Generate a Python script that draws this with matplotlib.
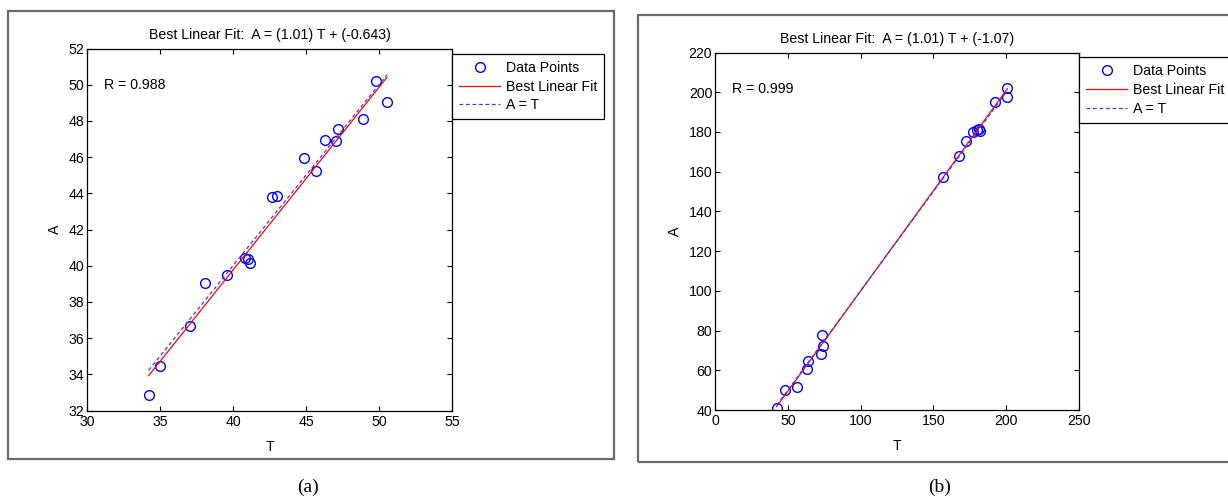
import numpy as np
import matplotlib
matplotlib.use("Agg")
import matplotlib.pyplot as plt
from matplotlib.patches import Rectangle

plt.rcParams["font.family"] = ["Liberation Sans", "DejaVu Sans"]

# panel (a)
t_a = [34.22, 34.98, 37.03, 38.10, 39.61, 40.84, 41.00, 41.16, 42.69, 43.01,
       44.86, 45.71, 46.32, 47.03, 47.21, 48.93, 49.82, 50.55]
a_a = [32.87, 34.47, 36.68, 39.04, 39.47, 40.41, 40.37, 40.15, 43.82, 43.87,
       45.94, 45.24, 46.95, 46.89, 47.54, 48.09, 50.23, 49.07]
m_a, b_a, r_a = 1.01, -0.643, 0.988
xticks_a = [30, 35, 40, 45, 50, 55]
yticks_a = [32, 34, 36, 38, 40, 42, 44, 46, 48, 50, 52]

# panel (b)
t_b = [42.4, 48.1, 56.3, 63.0, 64.1, 72.6, 74.2, 73.3, 156.8, 167.8,
       172.2, 177.0, 179.7, 181.5, 182.0, 192.5, 200.3, 200.8]
a_b = [40.9, 50.1, 51.6, 60.5, 64.7, 68.0, 72.2, 77.8, 157.5, 167.9,
       175.2, 179.9, 181.0, 181.4, 180.7, 195.0, 202.0, 197.8]
m_b, b_b, r_b = 1.01, -1.07, 0.999
xticks_b = [0, 50, 100, 150, 200, 250]
yticks_b = [40, 60, 80, 100, 120, 140, 160, 180, 200, 220]

W, H = 1228, 497
FS = 10.2
fig = plt.figure(figsize=(W / 100, H / 100), dpi=100)


def px_axes(left, top, right, bottom):
    return fig.add_axes([left / W, 1 - bottom / H, (right - left) / W, (bottom - top) / H])


def frame(left, top, right, bottom):
    fig.patches.append(Rectangle((left / W, 1 - bottom / H), (right - left) / W,
                                 (bottom - top) / H, transform=fig.transFigure,
                                 fill=False, edgecolor="#6a6a6a", lw=1.6))


def panel(ax, t, a, m, b, r, xticks, yticks, leg_top):
    t = np.array(t)
    a = np.array(a)
    ax.plot(t, a, "o", ms=7, mfc="none", mec="blue", mew=1.0, label="Data Points")
    xs = np.array([t.min(), t.max()])
    ax.plot(xs, m * xs + b, color="red", lw=0.9, label="Best Linear Fit")
    ax.plot(xs, xs, color="#3a3aff", lw=0.9, ls=(0, (3, 2.2)), label="A = T")
    ax.set_xlim(xticks[0], xticks[-1])
    ax.set_ylim(yticks[0], yticks[-1])
    ax.set_xticks(xticks)
    ax.set_yticks(yticks)
    ax.tick_params(direction="in", length=3.5, width=0.8, top=True, right=True,
                   labelsize=FS, pad=2)
    ax.tick_params(axis="x", pad=3)
    for s in ax.spines.values():
        s.set_linewidth(0.9)
    ax.set_xlabel("T", fontsize=FS, labelpad=8)
    ax.set_ylabel("A", fontsize=FS, labelpad=5)
    ax.set_title("Best Linear Fit:  A = (%.2f) T + (%s)" % (m, ("%.3g" % b)),
                 fontsize=FS, pad=7)
    ax.text(0.047, 0.898, "R = %.3f" % r, transform=ax.transAxes, fontsize=FS,
            ha="left", va="center")
    leg = ax.legend(loc="upper left", bbox_to_anchor=(1.0, leg_top), borderaxespad=0,
                    fontsize=FS, handlelength=2.9, handletextpad=0.4,
                    borderpad=0.5, labelspacing=0.33, fancybox=False,
                    framealpha=1, edgecolor="black")
    leg.get_frame().set_linewidth(0.9)


frame(8, 11, 614, 459)
frame(638, 15, 1250, 462)

ax1 = px_axes(87, 48.5, 452, 410.5)
panel(ax1, t_a, a_a, m_a, b_a, r_a, xticks_a, yticks_a, 0.985)

ax2 = px_axes(715, 52.5, 1079, 410)
panel(ax2, t_b, a_b, m_b, b_b, r_b, xticks_b, yticks_b, 0.987)

fig.text(308 / W, 1 - 487 / H, "(a)", family=["Liberation Serif", "DejaVu Serif"],
         fontsize=14, ha="center", va="center")
fig.text(940 / W, 1 - 487 / H, "(b)", family=["Liberation Serif", "DejaVu Serif"],
         fontsize=14, ha="center", va="center")

fig.savefig("out.png", dpi=100)
